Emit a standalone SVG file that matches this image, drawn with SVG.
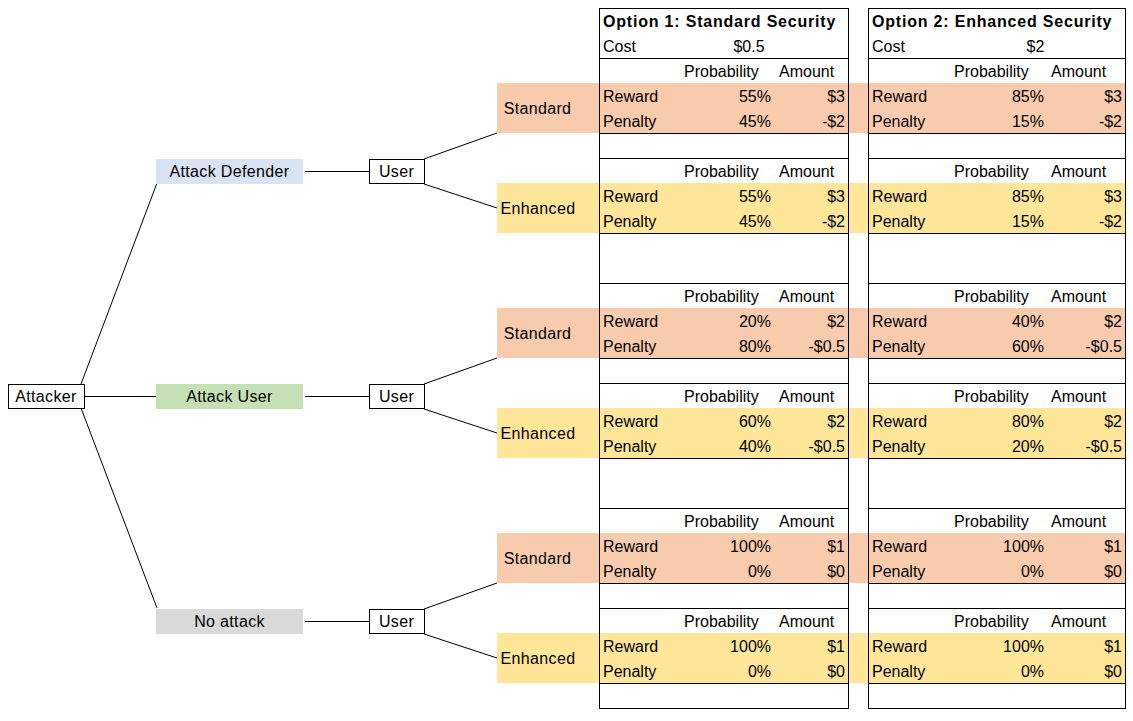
<svg xmlns="http://www.w3.org/2000/svg" width="1133" height="721" viewBox="0 0 1133 721">
<style>
text{font-family:"Liberation Sans",Arial,sans-serif;font-size:16px;fill:#000}
.b{font-weight:bold;letter-spacing:0.8px}
.m{text-anchor:middle}
.e{text-anchor:end}
.t{letter-spacing:0.35px}
.ln{stroke:#000;stroke-width:1;fill:none}
.std{fill:#F8CBAD}
.enh{fill:#FFE699}
</style>
<rect width="1133" height="721" fill="#fff"/>
<g id="bands">
<rect class="std" x="497" y="83" width="628" height="50"/>
<rect class="enh" x="497" y="183" width="628" height="50"/>
<rect class="std" x="497" y="308" width="628" height="50"/>
<rect class="enh" x="497" y="408" width="628" height="50"/>
<rect class="std" x="497" y="533" width="628" height="50"/>
<rect class="enh" x="497" y="633" width="628" height="50"/>
</g>
<g id="connectors" class="ln">
<line x1="84" y1="396.5" x2="156" y2="396.5"/>
<line x1="81" y1="384" x2="157" y2="183"/>
<line x1="81" y1="408" x2="157" y2="608"/>
<line x1="305" y1="171.5" x2="369" y2="171.5"/>
<line x1="305" y1="396.5" x2="369" y2="396.5"/>
<line x1="305" y1="621.5" x2="369" y2="621.5"/>
<line x1="424" y1="159" x2="497" y2="133"/>
<line x1="424" y1="184" x2="497" y2="208"/>
<line x1="424" y1="384" x2="497" y2="358"/>
<line x1="424" y1="409" x2="497" y2="433"/>
<line x1="424" y1="609" x2="497" y2="583"/>
<line x1="424" y1="634" x2="497" y2="658"/>
</g>
<g id="attacker">
<rect x="8.5" y="384.5" width="76" height="24" fill="#fff" stroke="#000"/>
<text class="m t" x="46" y="402">Attacker</text>
</g>
<g id="attack-defender">
<rect x="156" y="159" width="147" height="25" fill="#DAE3F3"/>
<text class="m t" x="229.5" y="177">Attack Defender</text>
</g>
<g id="attack-user">
<rect x="156" y="384" width="147" height="25" fill="#C5E0B4"/>
<text class="m t" x="229.5" y="402">Attack User</text>
</g>
<g id="no-attack">
<rect x="156" y="609" width="147" height="25" fill="#D9D9D9"/>
<text class="m t" x="229.5" y="627">No attack</text>
</g>
<g id="user1">
<rect x="369.5" y="159.5" width="55" height="24" fill="#fff" stroke="#000"/>
<text class="m t" x="396.5" y="177">User</text>
</g>
<g id="user2">
<rect x="369.5" y="384.5" width="55" height="24" fill="#fff" stroke="#000"/>
<text class="m t" x="396.5" y="402">User</text>
</g>
<g id="user3">
<rect x="369.5" y="609.5" width="55" height="24" fill="#fff" stroke="#000"/>
<text class="m t" x="396.5" y="627">User</text>
</g>
<g id="choice-labels">
<text class="m t" x="537.5" y="114">Standard</text>
<text class="m t" x="538" y="214">Enhanced</text>
<text class="m t" x="537.5" y="339">Standard</text>
<text class="m t" x="538" y="439">Enhanced</text>
<text class="m t" x="537.5" y="564">Standard</text>
<text class="m t" x="538" y="664">Enhanced</text>
</g>
<g id="option1">
<rect x="599.5" y="8.5" width="249" height="700" class="ln"/>
<g class="ln">
<line x1="599" y1="58.5" x2="849" y2="58.5"/><line x1="599" y1="133.5" x2="849" y2="133.5"/>
<line x1="599" y1="158.5" x2="849" y2="158.5"/><line x1="599" y1="233.5" x2="849" y2="233.5"/>
<line x1="599" y1="283.5" x2="849" y2="283.5"/><line x1="599" y1="358.5" x2="849" y2="358.5"/>
<line x1="599" y1="383.5" x2="849" y2="383.5"/><line x1="599" y1="458.5" x2="849" y2="458.5"/>
<line x1="599" y1="508.5" x2="849" y2="508.5"/><line x1="599" y1="583.5" x2="849" y2="583.5"/>
<line x1="599" y1="608.5" x2="849" y2="608.5"/><line x1="599" y1="683.5" x2="849" y2="683.5"/>
</g>
<text class="b" x="603" y="27">Option 1: Standard Security</text>
<text x="603" y="52">Cost</text><text class="m" x="749" y="52">$0.5</text>
<text x="684" y="77">Probability</text><text x="779" y="77">Amount</text>
<text x="603" y="102">Reward</text><text class="e" x="771" y="102">55%</text><text class="e" x="845" y="102">$3</text>
<text x="603" y="127">Penalty</text><text class="e" x="771" y="127">45%</text><text class="e" x="845" y="127">-$2</text>
<text x="684" y="177">Probability</text><text x="779" y="177">Amount</text>
<text x="603" y="202">Reward</text><text class="e" x="771" y="202">55%</text><text class="e" x="845" y="202">$3</text>
<text x="603" y="227">Penalty</text><text class="e" x="771" y="227">45%</text><text class="e" x="845" y="227">-$2</text>
<text x="684" y="302">Probability</text><text x="779" y="302">Amount</text>
<text x="603" y="327">Reward</text><text class="e" x="771" y="327">20%</text><text class="e" x="845" y="327">$2</text>
<text x="603" y="352">Penalty</text><text class="e" x="771" y="352">80%</text><text class="e" x="845" y="352">-$0.5</text>
<text x="684" y="402">Probability</text><text x="779" y="402">Amount</text>
<text x="603" y="427">Reward</text><text class="e" x="771" y="427">60%</text><text class="e" x="845" y="427">$2</text>
<text x="603" y="452">Penalty</text><text class="e" x="771" y="452">40%</text><text class="e" x="845" y="452">-$0.5</text>
<text x="684" y="527">Probability</text><text x="779" y="527">Amount</text>
<text x="603" y="552">Reward</text><text class="e" x="771" y="552">100%</text><text class="e" x="845" y="552">$1</text>
<text x="603" y="577">Penalty</text><text class="e" x="771" y="577">0%</text><text class="e" x="845" y="577">$0</text>
<text x="684" y="627">Probability</text><text x="779" y="627">Amount</text>
<text x="603" y="652">Reward</text><text class="e" x="771" y="652">100%</text><text class="e" x="845" y="652">$1</text>
<text x="603" y="677">Penalty</text><text class="e" x="771" y="677">0%</text><text class="e" x="845" y="677">$0</text>
</g>
<g id="option2">
<rect x="868.5" y="8.5" width="257" height="700" class="ln"/>
<g class="ln">
<line x1="868" y1="58.5" x2="1126" y2="58.5"/><line x1="868" y1="133.5" x2="1126" y2="133.5"/>
<line x1="868" y1="158.5" x2="1126" y2="158.5"/><line x1="868" y1="233.5" x2="1126" y2="233.5"/>
<line x1="868" y1="283.5" x2="1126" y2="283.5"/><line x1="868" y1="358.5" x2="1126" y2="358.5"/>
<line x1="868" y1="383.5" x2="1126" y2="383.5"/><line x1="868" y1="458.5" x2="1126" y2="458.5"/>
<line x1="868" y1="508.5" x2="1126" y2="508.5"/><line x1="868" y1="583.5" x2="1126" y2="583.5"/>
<line x1="868" y1="608.5" x2="1126" y2="608.5"/><line x1="868" y1="683.5" x2="1126" y2="683.5"/>
</g>
<text class="b" x="872" y="27">Option 2: Enhanced Security</text>
<text x="872" y="52">Cost</text><text class="m" x="1035.5" y="52">$2</text>
<text x="954" y="77">Probability</text><text x="1051" y="77">Amount</text>
<text x="872" y="102">Reward</text><text class="e" x="1044" y="102">85%</text><text class="e" x="1122" y="102">$3</text>
<text x="872" y="127">Penalty</text><text class="e" x="1044" y="127">15%</text><text class="e" x="1122" y="127">-$2</text>
<text x="954" y="177">Probability</text><text x="1051" y="177">Amount</text>
<text x="872" y="202">Reward</text><text class="e" x="1044" y="202">85%</text><text class="e" x="1122" y="202">$3</text>
<text x="872" y="227">Penalty</text><text class="e" x="1044" y="227">15%</text><text class="e" x="1122" y="227">-$2</text>
<text x="954" y="302">Probability</text><text x="1051" y="302">Amount</text>
<text x="872" y="327">Reward</text><text class="e" x="1044" y="327">40%</text><text class="e" x="1122" y="327">$2</text>
<text x="872" y="352">Penalty</text><text class="e" x="1044" y="352">60%</text><text class="e" x="1122" y="352">-$0.5</text>
<text x="954" y="402">Probability</text><text x="1051" y="402">Amount</text>
<text x="872" y="427">Reward</text><text class="e" x="1044" y="427">80%</text><text class="e" x="1122" y="427">$2</text>
<text x="872" y="452">Penalty</text><text class="e" x="1044" y="452">20%</text><text class="e" x="1122" y="452">-$0.5</text>
<text x="954" y="527">Probability</text><text x="1051" y="527">Amount</text>
<text x="872" y="552">Reward</text><text class="e" x="1044" y="552">100%</text><text class="e" x="1122" y="552">$1</text>
<text x="872" y="577">Penalty</text><text class="e" x="1044" y="577">0%</text><text class="e" x="1122" y="577">$0</text>
<text x="954" y="627">Probability</text><text x="1051" y="627">Amount</text>
<text x="872" y="652">Reward</text><text class="e" x="1044" y="652">100%</text><text class="e" x="1122" y="652">$1</text>
<text x="872" y="677">Penalty</text><text class="e" x="1044" y="677">0%</text><text class="e" x="1122" y="677">$0</text>
</g>
</svg>
